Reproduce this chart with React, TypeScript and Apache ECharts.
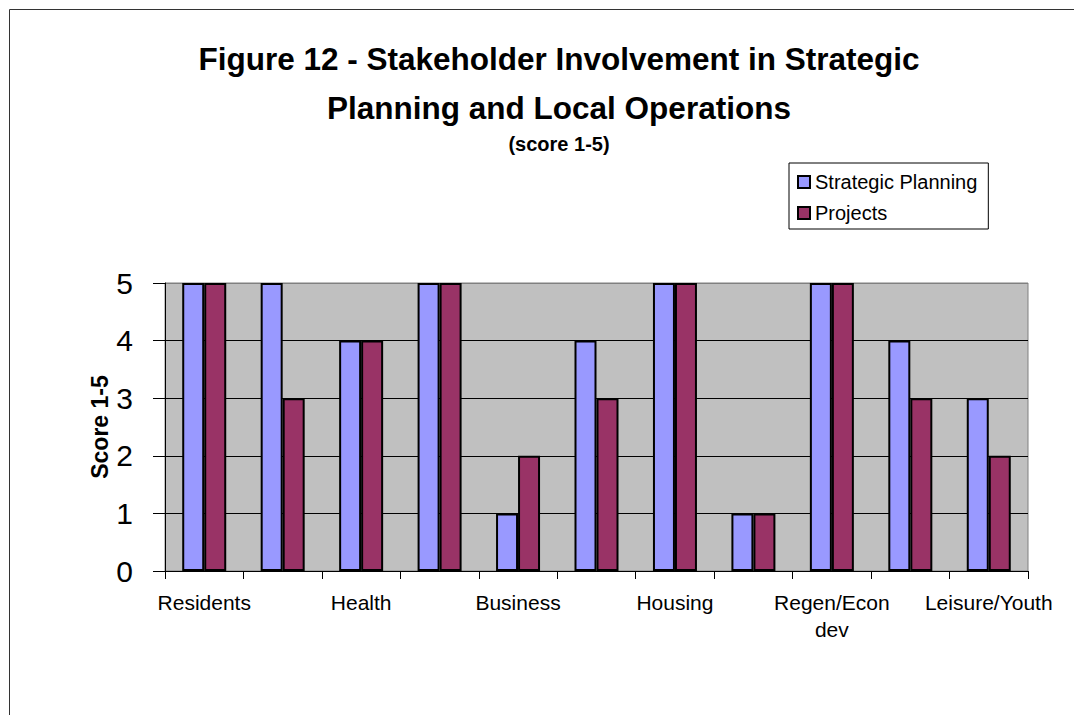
import React, { useEffect, useRef } from "react";
import * as echarts from "echarts";

const categories = [
  "Residents",
  "Police",
  "Health",
  "Education",
  "Business",
  "Voluntary",
  "Housing",
  "Environment",
  "Regen/Econ dev",
  "Transport",
  "Leisure/Youth",
];
const strategicPlanning = [5, 5, 4, 5, 1, 4, 5, 1, 5, 4, 3];
const projects = [5, 3, 4, 5, 2, 3, 5, 1, 5, 3, 2];
const yTicks = [0, 1, 2, 3, 4, 5];

const FONT = "'Liberation Sans', Arial, sans-serif";

export default function App() {
  const ref = useRef<HTMLDivElement>(null);
  useEffect(() => {
    if (!ref.current) return;
    const chart = echarts.init(ref.current, undefined, { renderer: "svg" });
    chart.setOption({
      animation: false,
      backgroundColor: "#ffffff",
      textStyle: { fontFamily: FONT },
      title: [
        {
          text: "Figure 12 - Stakeholder Involvement in Strategic\nPlanning and Local Operations",
          left: 554,
          top: 29,
          textAlign: "center",
          textStyle: {
            fontFamily: FONT,
            fontSize: 31.5,
            fontWeight: "bold",
            color: "#000",
            lineHeight: 49,
          },
        },
        {
          text: "(score 1-5)",
          left: 554,
          top: 129,
          textAlign: "center",
          textStyle: { fontFamily: FONT, fontSize: 20, fontWeight: "bold", color: "#000" },
        },
      ],
      legend: {
        orient: "vertical",
        left: 789,
        top: 163,
        backgroundColor: "#ffffff",
        borderColor: "#000",
        borderWidth: 1,
        borderRadius: 0,
        padding: [9, 11, 6, 8],
        itemWidth: 12,
        itemHeight: 12,
        itemGap: 11,
        icon: "rect",
        textStyle: { fontFamily: FONT, fontSize: 20, color: "#000" },
        data: ["Strategic Planning", "Projects"],
      },
      grid: {
        left: 165,
        top: 283,
        width: 863,
        height: 288,
        show: true,
        backgroundColor: "#C0C0C0",
        borderColor: "#808080",
        borderWidth: 1,
        containLabel: false,
      },
      xAxis: {
        type: "category",
        data: categories,
        boundaryGap: true,
        axisLine: { show: true, lineStyle: { color: "#000", width: 1 } },
        axisTick: { show: true, interval: 0, length: 8, lineStyle: { color: "#000" } },
        axisLabel: {
          interval: 1,
          margin: 18,
          fontFamily: FONT,
          fontSize: 21,
          color: "#000",
          lineHeight: 27,
          formatter: (v: string) => v.replace(" dev", "\ndev"),
        },
        splitLine: { show: false },
      },
      yAxis: {
        type: "value",
        min: yTicks[0],
        max: yTicks[yTicks.length - 1],
        interval: 1,
        name: "Score 1-5",
        nameLocation: "middle",
        nameGap: 54,
        nameMoveOverlap: false,
        nameTextStyle: { fontFamily: FONT, fontSize: 23, fontWeight: "bold", color: "#000" },
        axisLine: { show: true, lineStyle: { color: "#000", width: 1 } },
        axisTick: { show: true, length: 12, lineStyle: { color: "#000" } },
        axisLabel: { fontFamily: FONT, fontSize: 30, color: "#000", margin: 32 },
        splitLine: {
          show: true,
          lineStyle: { color: ["#000", "#000", "#000", "#000", "#000", "#808080"], width: 1 },
        },
      },
      series: [
        {
          name: "Strategic Planning",
          type: "bar",
          data: strategicPlanning,
          barWidth: 22,
          barGap: "0%",
          itemStyle: { color: "#9999FF", borderColor: "#000", borderWidth: 2 },
        },
        {
          name: "Projects",
          type: "bar",
          data: projects,
          barWidth: 22,
          barGap: "0%",
          itemStyle: { color: "#993366", borderColor: "#000", borderWidth: 2 },
        },
      ],
      graphic: [
        {
          type: "rect",
          silent: true,
          shape: { x: 9.5, y: 9.5, width: 1070, height: 720 },
          style: { fill: "none", stroke: "#333", lineWidth: 1 },
          z: 100,
        },
      ],
    });
    return () => chart.dispose();
  }, []);
  return (
    <div
      ref={ref}
      style={{ position: "fixed", left: 0, top: 0, width: 1074, height: 715 }}
    />
  );
}
